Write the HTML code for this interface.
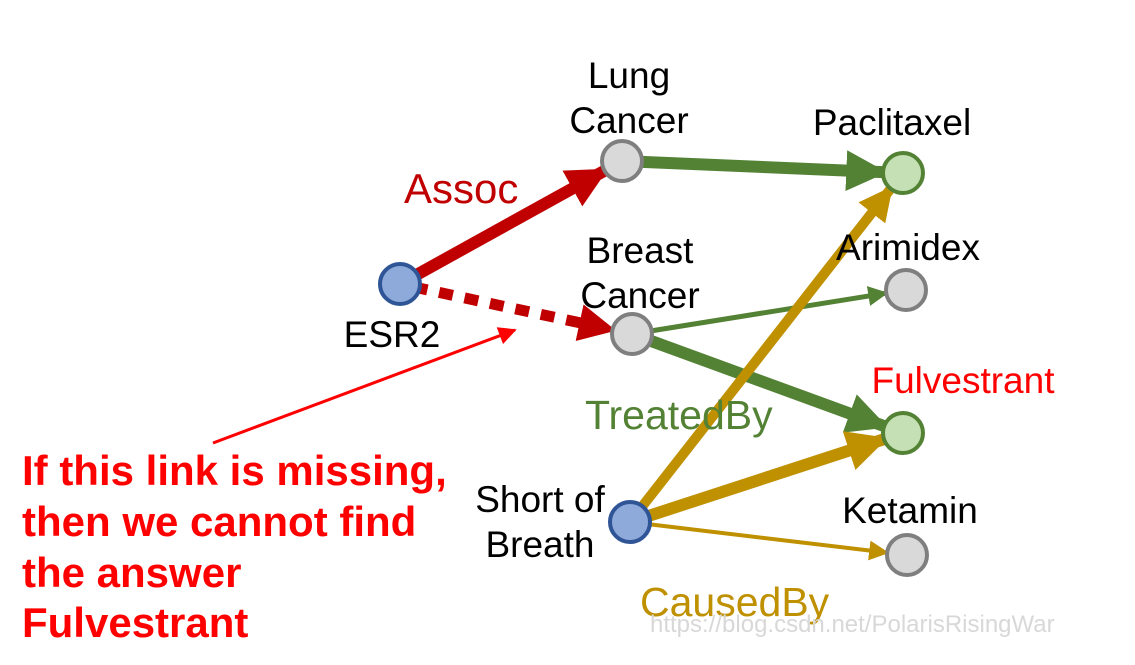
<!DOCTYPE html>
<html><head><meta charset="utf-8"><style>
html,body{margin:0;padding:0;background:#fff;}
svg{display:block;font-family:"Liberation Sans",Arial,sans-serif;}
</style></head><body>
<svg id="g" width="1135" height="665" viewBox="0 0 1135 665">
<defs>
<marker id="mr" viewBox="0 0 10 10" refX="9" refY="5" markerWidth="3.4" markerHeight="3.4" orient="auto" markerUnits="strokeWidth"><path d="M0,0 L10,5 L0,10 z" fill="#c00000"/></marker>
<marker id="mg" viewBox="0 0 10 10" refX="9" refY="5" markerWidth="3.4" markerHeight="3.4" orient="auto" markerUnits="strokeWidth"><path d="M0,0 L10,5 L0,10 z" fill="#548235"/></marker>
<marker id="mgs" viewBox="0 0 10 10" refX="9" refY="5" markerWidth="4" markerHeight="4" orient="auto" markerUnits="strokeWidth"><path d="M0,0 L10,5 L0,10 z" fill="#548235"/></marker>
<marker id="my" viewBox="0 0 10 10" refX="9" refY="5" markerWidth="3.4" markerHeight="3.4" orient="auto" markerUnits="strokeWidth"><path d="M0,0 L10,5 L0,10 z" fill="#bf9000"/></marker>
<marker id="mys" viewBox="0 0 10 10" refX="9" refY="5" markerWidth="5" markerHeight="5" orient="auto" markerUnits="strokeWidth"><path d="M0,0 L10,5 L0,10 z" fill="#bf9000"/></marker>
<marker id="mt" viewBox="0 0 10 10" refX="9" refY="5" markerWidth="6" markerHeight="6" orient="auto" markerUnits="strokeWidth"><path d="M0,0 L10,5 L0,10 z" fill="#ff0000"/></marker>
</defs>
<g id="edges"></g>
<g id="nodes"></g>
<g id="labels"></g>
<line x1="213" y1="443" x2="515" y2="330" stroke="#ff0000" stroke-width="3" marker-end="url(#mt)"/>
<text x="404" y="203" font-size="42" fill="#c00000">Assoc</text>
<text x="585" y="429" font-size="41" fill="#548235">TreatedBy</text>
<text x="640" y="616" font-size="41" fill="#bf9000">CausedBy</text>
<g font-size="42" font-weight="bold" fill="#ff0000">
<text x="22" y="485">If this link is missing,</text>
<text x="22" y="536">then we cannot find</text>
<text x="22" y="587">the answer</text>
<text x="22" y="637">Fulvestrant</text>
</g>
<text x="650" y="632" font-size="24" fill="#d8d8d8">https://blog.csdn.net/PolarisRisingWar</text>
</svg>
<script>
const nodeNames=["ESR2","Lung Cancer","Breast Cancer","Short of Breath","Paclitaxel","Arimidex","Fulvestrant","Ketamin"];
const nodeX=[400,622,632,630,903,906,903,907];
const nodeY=[284,161,334,522,173,290,433,555];
const nodeFill=["#8eaadb","#d9d9d9","#d9d9d9","#8eaadb","#c5e0b4","#d9d9d9","#c5e0b4","#d9d9d9"];
const nodeStroke=["#2f5597","#7f7f7f","#7f7f7f","#2f5597","#548235","#7f7f7f","#548235","#7f7f7f"];
const edgeFrom=[0,0,1,2,2,3,3,3];
const edgeTo=[1,2,4,5,6,4,6,7];
const NS="http://www.w3.org/2000/svg";
const edgeStyle=[["#c00000",12,"mr",""],["#c00000",11,"mr","14 12"],["#548235",12,"mg",""],["#548235",5,"mgs",""],["#548235",12,"mg",""],["#bf9000",10,"my",""],["#bf9000",12,"my",""],["#bf9000",4,"mys",""]];
const eg=document.getElementById("edges");
edgeFrom.forEach((f,i)=>{const t=edgeTo[i];const dx=nodeX[t]-nodeX[f],dy=nodeY[t]-nodeY[f];const L=Math.hypot(dx,dy);
const r=20;const l=document.createElementNS(NS,"line");
l.setAttribute("x1",nodeX[f]+dx/L*14);l.setAttribute("y1",nodeY[f]+dy/L*14);
l.setAttribute("x2",nodeX[t]-dx/L*r);l.setAttribute("y2",nodeY[t]-dy/L*r);
const s=edgeStyle[i];l.setAttribute("stroke",s[0]);l.setAttribute("stroke-width",s[1]);
l.setAttribute("marker-end","url(#"+s[2]+")");if(s[3])l.setAttribute("stroke-dasharray",s[3]);


eg.appendChild(l);});
const ng=document.getElementById("nodes");
nodeNames.forEach((n,i)=>{const c=document.createElementNS(NS,"circle");
c.setAttribute("cx",nodeX[i]);c.setAttribute("cy",nodeY[i]);c.setAttribute("r",20);
c.setAttribute("fill",nodeFill[i]);c.setAttribute("stroke",nodeStroke[i]);c.setAttribute("stroke-width",4);


ng.appendChild(c);});
const labelText=[["ESR2"],["Lung","Cancer"],["Breast","Cancer"],["Short of","Breath"],["Paclitaxel"],["Arimidex"],["Fulvestrant"],["Ketamin"]];
const labelX=[392,629,640,540,892,908,963,910];
const labelY=[347,88,263,512,135,260,393,523];
const labelColor=["#000","#000","#000","#000","#000","#000","#ff0000","#000"];
const lg=document.getElementById("labels");
labelText.forEach((lines,i)=>{const t=document.createElementNS(NS,"text");
t.setAttribute("x",labelX[i]);t.setAttribute("y",labelY[i]);t.setAttribute("font-size",37);
t.setAttribute("text-anchor","middle");t.setAttribute("fill",labelColor[i]);
lines.forEach((ln,j)=>{const s=document.createElementNS(NS,"tspan");s.setAttribute("x",labelX[i]);if(j)s.setAttribute("dy",45);s.textContent=ln;t.appendChild(s);});


lg.appendChild(t);});
</script>
</body></html>
